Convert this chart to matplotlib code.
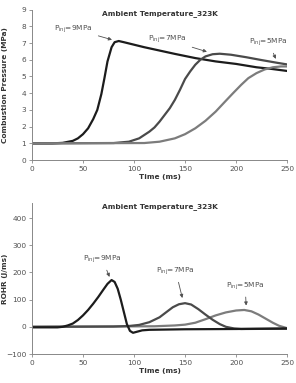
import matplotlib
matplotlib.use("Agg")
import matplotlib.pyplot as plt

# combustion pressure (MPa) vs time (ms)
t_p9 = [0, 20, 30, 40, 45, 50, 55, 60, 64, 68, 71, 74, 78, 81, 85, 90, 100, 110, 125, 140, 160, 180, 200, 220, 235, 250]
p_9 = [1.0, 1.0, 1.03, 1.15, 1.3, 1.55, 1.9, 2.45, 3.0, 3.95, 4.9, 5.9, 6.75, 7.05, 7.12, 7.05, 6.9, 6.75, 6.55, 6.35, 6.1, 5.9, 5.75, 5.55, 5.45, 5.33]
t_p7 = [0, 80, 95, 105, 115, 120, 125, 130, 135, 140, 145, 150, 155, 160, 165, 170, 177, 184, 195, 210, 225, 240, 250]
p_7 = [1.0, 1.02, 1.1, 1.3, 1.7, 1.95, 2.3, 2.7, 3.1, 3.6, 4.2, 4.85, 5.3, 5.7, 6.0, 6.2, 6.33, 6.36, 6.3, 6.15, 5.98, 5.82, 5.72]
t_p5 = [0, 110, 125, 140, 150, 160, 170, 180, 190, 197, 205, 212, 220, 228, 236, 244, 250]
p_5 = [1.0, 1.02, 1.1, 1.3, 1.55, 1.9, 2.35, 2.9, 3.55, 4.0, 4.5, 4.9, 5.2, 5.42, 5.55, 5.6, 5.6]

# rate of heat release (J/ms) vs time (ms)
t_r9 = [0, 25, 30, 35, 40, 45, 50, 55, 60, 65, 70, 74, 78, 81, 84, 87, 90, 93, 96, 99, 103, 108, 115, 150, 200, 250]
r_9 = [-2, -2, 0, 5, 12, 25, 42, 62, 85, 110, 137, 158, 172, 165, 140, 100, 55, 10, -15, -22, -18, -13, -11, -9, -8, -6]
t_r7 = [0, 80, 95, 105, 115, 125, 132, 138, 144, 150, 156, 163, 170, 177, 184, 190, 198, 205, 250]
r_7 = [0, 1, 3, 7, 17, 35, 55, 72, 83, 87, 82, 65, 45, 26, 10, 0, -6, -8, -7]
t_r5 = [0, 120, 140, 150, 160, 170, 180, 190, 200, 208, 215, 222, 229, 236, 242, 250]
r_5 = [0, 2, 5, 8, 15, 28, 42, 53, 60, 62, 57, 45, 30, 15, 4, -5]

colors = ["#1c1c1c", "#4a4a4a", "#7c7c7c"]

plt.rcParams["font.family"] = "DejaVu Sans"
fig = plt.figure(figsize=(2.96, 3.83), dpi=100)
ax1 = fig.add_axes([0.108, 0.582, 0.862, 0.393])
ax2 = fig.add_axes([0.108, 0.0757, 0.862, 0.394])

fs = 5.3
tc = "#505050"

for ax in (ax1, ax2):
    ax.spines["top"].set_visible(False)
    ax.spines["right"].set_visible(False)
    ax.spines["left"].set_color("#888888")
    ax.spines["bottom"].set_color("#888888")
    ax.spines["left"].set_linewidth(0.7)
    ax.spines["bottom"].set_linewidth(0.7)
    ax.tick_params(labelsize=fs, colors="#888888", labelcolor=tc, length=2, width=0.6, pad=2)
    ax.set_xlim(0, 250)
    ax.set_xticks([0, 50, 100, 150, 200, 250])
    ax.set_xlabel("Time (ms)", fontsize=fs, fontweight="bold", color="#333333", labelpad=2)
    ax.text(0.5, 1.0, "Ambient Temperature_323K", transform=ax.transAxes, ha="center", va="top",
            fontsize=fs, fontweight="bold", color="#333333")

# top: pressure
for t, p, c in zip([t_p9, t_p7, t_p5], [p_9, p_7, p_5], colors):
    ax1.plot(t, p, color=c, lw=1.6)
ax1.set_ylim(0, 9)
ax1.set_yticks(range(0, 10))
ax1.set_ylabel("Combustion Pressure (MPa)", fontsize=fs, fontweight="bold", color="#333333")
ax1.yaxis.set_label_coords(-0.095, 0.5)

arr = dict(arrowstyle="-|>", color="#505050", lw=0.6, mutation_scale=5)
ax1.annotate(r"P$_{\rm inj}$=9MPa", xy=(81, 7.15), xytext=(22, 7.85), fontsize=fs, color=tc,
             va="center", arrowprops=arr)
ax1.annotate(r"P$_{\rm inj}$=7MPa", xy=(174, 6.43), xytext=(114, 7.2), fontsize=fs, color=tc,
             va="center", arrowprops=arr)
ax1.annotate(r"P$_{\rm inj}$=5MPa", xy=(240, 5.9), xytext=(213, 7.05), fontsize=fs, color=tc,
             va="center", arrowprops=arr)

# bottom: ROHR
for t, r, c in zip([t_r5, t_r7, t_r9], [r_5, r_7, r_9], colors[::-1]):
    ax2.plot(t, r, color=c, lw=1.6)
ax2.set_ylim(-100, 455)
ax2.set_yticks([-100, 0, 100, 200, 300, 400])
ax2.set_ylabel("ROHR (J/ms)", fontsize=fs, fontweight="bold", color="#333333")
ax2.yaxis.set_label_coords(-0.095, 0.5)

ax2.annotate(r"P$_{\rm inj}$=9MPa", xy=(77, 174), xytext=(50, 249), fontsize=fs, color=tc,
             va="center", arrowprops=arr)
ax2.annotate(r"P$_{\rm inj}$=7MPa", xy=(148, 96), xytext=(122, 205), fontsize=fs, color=tc,
             va="center", arrowprops=arr)
ax2.annotate(r"P$_{\rm inj}$=5MPa", xy=(210, 68), xytext=(190, 151), fontsize=fs, color=tc,
             va="center", arrowprops=arr)

fig.savefig("out.png", dpi=100)
